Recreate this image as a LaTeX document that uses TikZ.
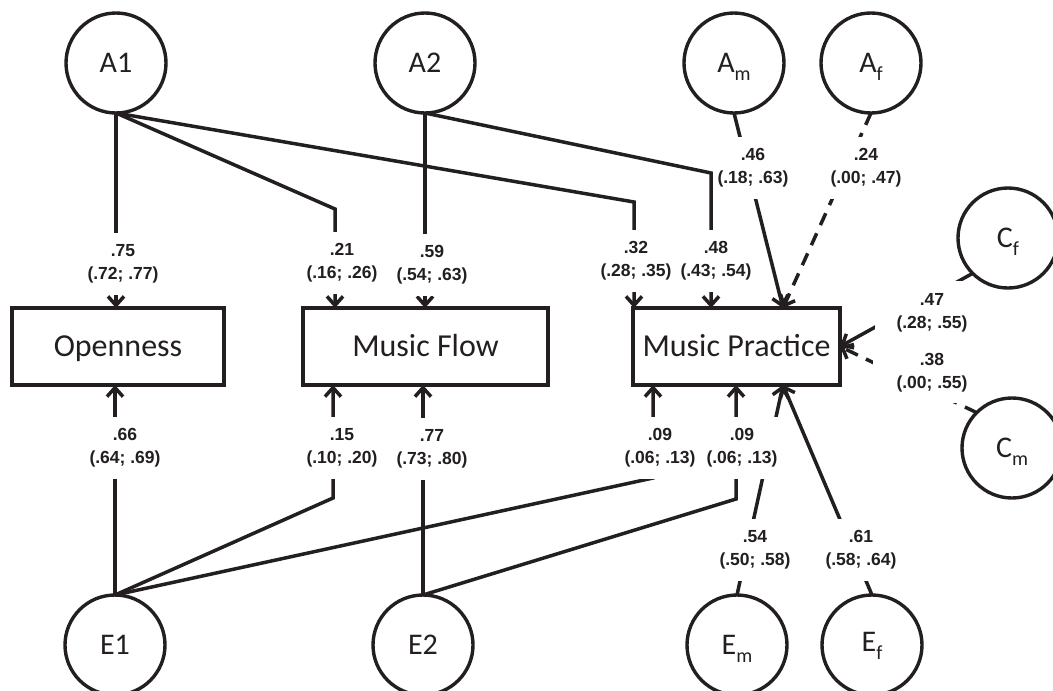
\documentclass[tikz,border=0pt]{standalone}
\usepackage{fontspec}
\setmainfont{Carlito}
\newfontfamily\labfont{Liberation Sans}
\usetikzlibrary{arrows.meta}
\definecolor{ink}{RGB}{35,31,32}
\pgfdeclarelayer{lines}
\pgfdeclarelayer{labels}
\pgfsetlayers{lines,labels,main}
\newcommand{\lsub}[1]{\raisebox{-8pt}[0pt][0pt]{\fontsize{20}{20}\selectfont #1}}
\begin{document}
\begin{tikzpicture}[x=1pt,y=-1pt,
  circ/.style={circle, draw=ink, line width=3.4pt, minimum size=100pt, inner sep=0pt, outer sep=0pt, text=ink, font=\fontsize{30}{30}\selectfont},
  box/.style={rectangle, draw=ink, line width=3.8pt, minimum height=77pt, inner sep=0pt, outer sep=0pt, text=ink, text height=20.6pt, text depth=0pt, font=\fontsize{32}{32}\selectfont},
  link/.style={draw=ink, line width=3.5pt},
  arr/.style={link, -{Straight Barb[length=9pt,width=16pt]}},
  dsh/.style={dash pattern=on 13pt off 9pt},
  lab/.style={fill=white, align=center, text=ink, inner xsep=3pt, inner ysep=12pt, font=\labfont\bfseries\fontsize{17.5}{23}\selectfont}
]
\useasboundingbox (0,0) rectangle (1053,691);

% latent variables
\node[circ] (A1) at (116,63) {A1};
\node[circ] (A2) at (425,63) {A2};
\node[circ] (Am) at (734,63) {A\lsub{m}};
\node[circ] (Af) at (871,63) {A\lsub{f}};
\node[circ] (Cf) at (1008,238) {C\lsub{f}};
\node[circ] (Cm) at (1012,448) {C\lsub{m}};
\node[circ] (E1) at (115,645) {E1};
\node[circ] (E2) at (423,645) {E2};
\node[circ] (Em) at (737,645) {E\lsub{m}};
\node[circ] (Ef) at (872,645) {\raisebox{6pt}{E\lsub{f}}};

% observed variables
\node[box, minimum width=212pt] (Op) at (118,346.5) {Openness};
\node[box, minimum width=245pt] (MF) at (425.5,346.5) {Music Flow};
\node[box, minimum width=207pt] (MP) at (736.5,346.5) {Music Practice};

% bend points
\coordinate (bA1MF) at (335,209);
\coordinate (bA1MP) at (634,202);
\coordinate (bA2MP) at (711,173);
\coordinate (bE1MF) at (333,498);
\coordinate (bE1MP) at (653,478);
\coordinate (bE2MP) at (736,499);
\coordinate (mpT) at ([xshift=46.5pt]MP.north);
\coordinate (mpB) at ([xshift=46.5pt]MP.south);

\begin{pgfonlayer}{lines}
\draw[arr] (A1.south) -- (A1.south |- Op.north);
\draw[arr] (A1.south) -- (bA1MF) -- (bA1MF |- MF.north);
\draw[arr] (A1.south) -- (bA1MP) -- (bA1MP |- MP.north);
\draw[arr] (A2.south) -- (A2.south |- MF.north);
\draw[arr] (A2.south) -- (bA2MP) -- (bA2MP |- MP.north);
\draw[arr] (Am.south) -- (mpT);
\draw[arr, dsh] (Af.south) -- (mpT);
\draw[arr] (Cf.south west) -- (MP.east);
\draw[arr, dsh] (Cm.north west) -- (MP.east);
\draw[arr] (E1.north) -- (E1.north |- Op.south);
\draw[arr] (E1.north) -- (bE1MF) -- (bE1MF |- MF.south);
\draw[arr] (E1.north) -- (bE1MP) -- (bE1MP |- MP.south);
\draw[arr] (E2.north) -- (E2.north |- MF.south);
\draw[arr] (E2.north) -- (bE2MP) -- (bE2MP |- MP.south);
\draw[arr] (Em.north) -- (mpB);
\draw[arr] (Ef.north) -- (mpB);
\end{pgfonlayer}

\begin{pgfonlayer}{labels}
\node[lab] (l1) at (123,264) {.75\\(.72; .77)};
\node[lab] (l2) at (342,263) {.21\\(.16; .26)};
\node[lab] (l3) at (432,265) {.59\\(.54; .63)};
\node[lab] (l4) at (636,261) {.32\\(.28; .35)};
\node[lab] (l5) at (716,261) {.48\\(.43; .54)};
\node[lab, inner xsep=4pt] (l6) at (753,168) {.46\\(.18; .63)};
\node[lab, inner xsep=4pt] (l7) at (866,168) {.24\\(.00; .47)};
\node[lab, inner xsep=22pt, inner ysep=13pt] (l8) at (932,313) {.47\\(.28; .55)};
\node[lab, inner xsep=24pt, inner ysep=11pt] (l9) at (932,373) {.38\\(.00; .55)};
\node[lab] (l10) at (125,448) {.66\\(.64; .69)};
\node[lab] (l11) at (342,448) {.15\\(.10; .20)};
\node[lab] (l12) at (432,449) {.77\\(.73; .80)};
\node[lab] (l13) at (660,448) {.09\\(.06; .13)};
\node[lab] (l14) at (742,448) {.09\\(.06; .13)};
\node[lab, inner xsep=4pt] (l15) at (755,550) {.54\\(.50; .58)};
\node[lab, inner xsep=4pt] (l16) at (861,550) {.61\\(.58; .64)};
\end{pgfonlayer}
\end{tikzpicture}
\end{document}
